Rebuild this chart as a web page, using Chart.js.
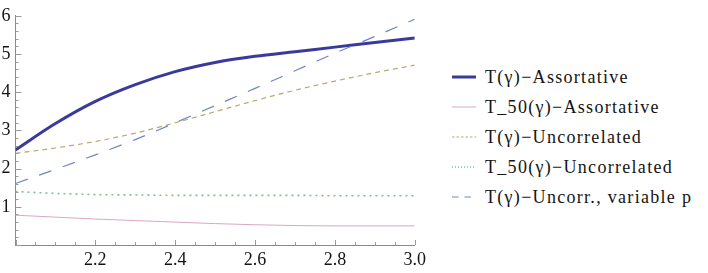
<!DOCTYPE html>
<html>
<head>
<meta charset="utf-8">
<script src="https://cdn.jsdelivr.net/npm/chart.js@4.4.1/dist/chart.umd.min.js"></script>
<style>
  html, body { margin: 0; padding: 0; background: #fff; }
  #wrap { position: relative; width: 708px; height: 273px; }
  #plot { position: absolute; left: 0; top: 0; width: 430px; height: 273px; }
  #legend { position: absolute; left: 451px; top: 62px; font-family: "Liberation Serif", "DejaVu Serif"; font-size: 18px; letter-spacing: 1.3px; color: #141414; }
  .row { height: 30px; display: flex; align-items: center; white-space: nowrap; }
  .row svg { width: 26px; height: 10px; margin-right: 8px; flex: none; }
</style>
</head>
<body>
<div id="wrap">
  <div id="plot"><canvas id="chart"></canvas></div>
  <div id="legend"></div>
</div>
<script>
// values
const gammaValues = [2.0, 2.1, 2.2, 2.3, 2.4, 2.5, 2.6, 2.7, 2.8, 2.9, 3.0];
const tAssortative = [2.49, 3.18, 3.76, 4.20, 4.54, 4.78, 4.94, 5.06, 5.18, 5.30, 5.42];
const t50Assortative = [0.78, 0.73, 0.68, 0.64, 0.60, 0.56, 0.53, 0.51, 0.50, 0.50, 0.50];
const tUncorrelated = [2.40, 2.54, 2.71, 2.93, 3.20, 3.49, 3.78, 4.05, 4.29, 4.51, 4.71];
const t50Uncorrelated = [1.40, 1.35, 1.32, 1.31, 1.30, 1.30, 1.30, 1.30, 1.29, 1.29, 1.29];
const tVariableP = [1.61, 1.98, 2.36, 2.76, 3.20, 3.65, 4.10, 4.56, 5.02, 5.46, 5.91];
const yTickValues = [0, 1, 2, 3, 4, 5, 6];
const xTickValues = [2.0, 2.2, 2.4, 2.6, 2.8, 3.0];

const seriesInfo = [
  { label: 'T(\u03b3)\u2212Assortative', data: tAssortative, color: '#3a3a9c', width: 3, dash: [] },
  { label: 'T_50(\u03b3)\u2212Assortative', data: t50Assortative, color: '#d9a6c6', width: 1, dash: [] },
  { label: 'T(\u03b3)\u2212Uncorrelated', data: tUncorrelated, color: '#b8aa6c', width: 1.2, dash: [5, 4] },
  { label: 'T_50(\u03b3)\u2212Uncorrelated', data: t50Uncorrelated, color: '#7cc28e', width: 1.6, dash: [2, 4] },
  { label: 'T(\u03b3)\u2212Uncorr., variable p', data: tVariableP, color: '#6f85c6', width: 1.2, dash: [13, 12] }
];

const SERIF = '"Liberation Serif", "DejaVu Serif"';

function toPoints(values) {
  return gammaValues.map((g, i) => ({ x: g, y: values[i] }));
}

// Mathematica-style ticks pointing into the plot
const innerTicks = {
  id: 'innerTicks',
  afterDraw(chart) {
    const { ctx, scales: { x, y } } = chart;
    ctx.save();
    ctx.strokeStyle = '#9a9a9a';
    ctx.lineWidth = 1;
    ctx.beginPath();
    for (let i = 0; i <= 30; i++) {
      const py = Math.round(y.getPixelForValue(i * 0.2)) + 0.5;
      const len = i % 5 === 0 ? 6 : 3;
      ctx.moveTo(x.left, py);
      ctx.lineTo(x.left + len, py);
    }
    for (let i = 0; i <= 20; i++) {
      const px = Math.round(x.getPixelForValue(2 + i * 0.05)) + 0.5;
      const len = i % 4 === 0 ? 5 : 3;
      ctx.moveTo(px, y.bottom);
      ctx.lineTo(px, y.bottom - len);
    }
    ctx.stroke();
    ctx.restore();
  }
};

function buildLegend() {
  const legend = document.getElementById('legend');
  seriesInfo.forEach((s) => {
    const row = document.createElement('div');
    row.className = 'row';
    const dash = s.dash.length ? s.dash.map((d) => Math.max(1, d * 0.5)).join(' ') : 'none';
    row.innerHTML = `<svg viewBox="0 0 26 10"><line x1="1" y1="5" x2="25" y2="5" stroke="${s.color}" stroke-width="${s.width}" stroke-dasharray="${dash}"/></svg><span>${s.label}</span>`;
    legend.appendChild(row);
  });
}

document.addEventListener('DOMContentLoaded', () => {
  buildLegend();
  const ctx = document.getElementById('chart').getContext('2d');
  new Chart(ctx, {
    type: 'line',
    data: {
      datasets: seriesInfo.map((s) => ({
        label: s.label,
        data: toPoints(s.data),
        borderColor: s.color,
        borderWidth: s.width,
        borderDash: s.dash,
        pointRadius: 0,
        fill: false,
        cubicInterpolationMode: 'monotone'
      })).reverse()
    },
    options: {
      responsive: true,
      maintainAspectRatio: false,
      animation: false,
      layout: { padding: { top: 13, right: 12, left: 0, bottom: 0 } },
      plugins: { legend: { display: false }, tooltip: { enabled: false } },
      scales: {
        x: {
          type: 'linear',
          min: 2,
          max: 3,
          grid: { display: false, drawTicks: false },
          border: { display: true, color: '#8a8a8a', width: 1 },
          afterFit(scale) { scale.height = 28; },
          afterBuildTicks(scale) { scale.ticks = xTickValues.map((v) => ({ value: v })); },
          ticks: {
            color: '#141414',
            padding: 4,
            maxRotation: 0,
            font: { family: SERIF, size: 18 },
            callback: (v) => (v === 2 ? '' : v.toFixed(1))
          }
        },
        y: {
          type: 'linear',
          min: 0,
          max: 6,
          grid: { display: false, drawTicks: false },
          border: { display: true, color: '#8a8a8a', width: 1 },
          afterFit(scale) { scale.width = 15.5; },
          afterBuildTicks(scale) { scale.ticks = yTickValues.map((v) => ({ value: v })); },
          ticks: {
            color: '#141414',
            padding: 5,
            font: { family: SERIF, size: 18 },
            callback: (v) => (v === 0 ? '' : String(v))
          }
        }
      }
    },
    plugins: [innerTicks]
  });
});
</script>
</body>
</html>
